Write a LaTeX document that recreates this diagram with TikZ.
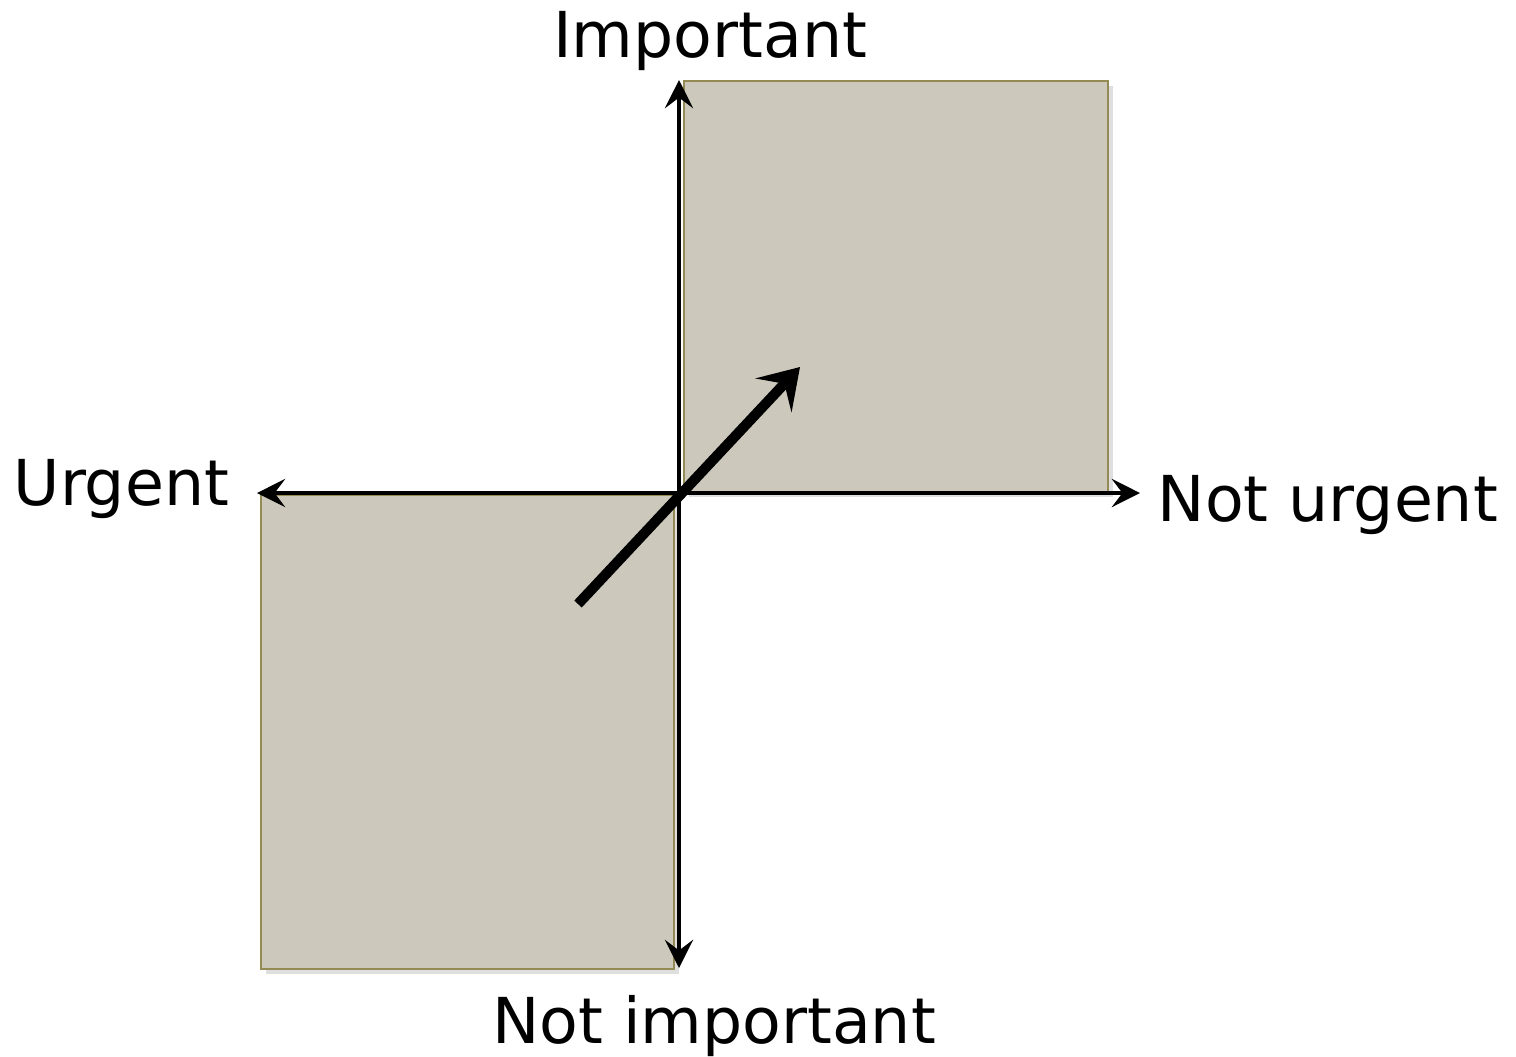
\documentclass[tikz,border=0pt]{standalone}
\usepackage{fontspec}
\setmainfont{DejaVu Sans}
\usetikzlibrary{positioning,arrows.meta,shadows}
\definecolor{quadFill}{HTML}{CCC9BC}
\definecolor{quadEdge}{HTML}{948A54}

\begin{document}
\begin{tikzpicture}[
  x=0.01cm, y=-0.01cm,
  every node/.style={font=\fontsize{18}{20}\selectfont, inner sep=0pt},
  quad/.style={fill=quadFill, draw=quadEdge, line width=0.5pt,
               drop shadow={opacity=0.25, shadow xshift=1.5pt, shadow yshift=-1.5pt}},
  axis/.style={{Stealth[length=8pt,width=8pt,inset=3pt]}-{Stealth[length=8pt,width=8pt,inset=3pt]},
               line width=1.4pt, black},
  move/.style={-{Stealth[length=11pt,width=14pt,inset=4.5pt]}, line width=2.9pt, black}
]
  \useasboundingbox (0,0) rectangle (1516,1056);
  % the two shaded quadrants
  \node[quad, minimum width=4.24cm, minimum height=4.11cm, anchor=north west] (hi) at (683,80) {};
  \node[quad, minimum width=4.13cm, minimum height=4.74cm, anchor=north west] (lo) at (260,494) {};
  % axis ends
  \coordinate (top) at (679,80);
  \coordinate (bot) at (679,968);
  \coordinate (left) at (257,493);
  \coordinate (right) at (1140,493);
  \coordinate (from) at (578,604);
  \coordinate (to) at (800,367);
  \draw[axis] (bot) -- (top);
  \draw[axis] (left) -- (right);
  \draw[move] (from) -- (to);
  % labels
  \node[anchor=base] (imp) at (710,57) {Important};
  \node[anchor=base] (notimp) at (714,1043) {Not important};
  \node[anchor=base west] (urg) at (13,505) {Urgent};
  \node[anchor=base west] (noturg) at (1157,521) {Not urgent};
\end{tikzpicture}
\end{document}
